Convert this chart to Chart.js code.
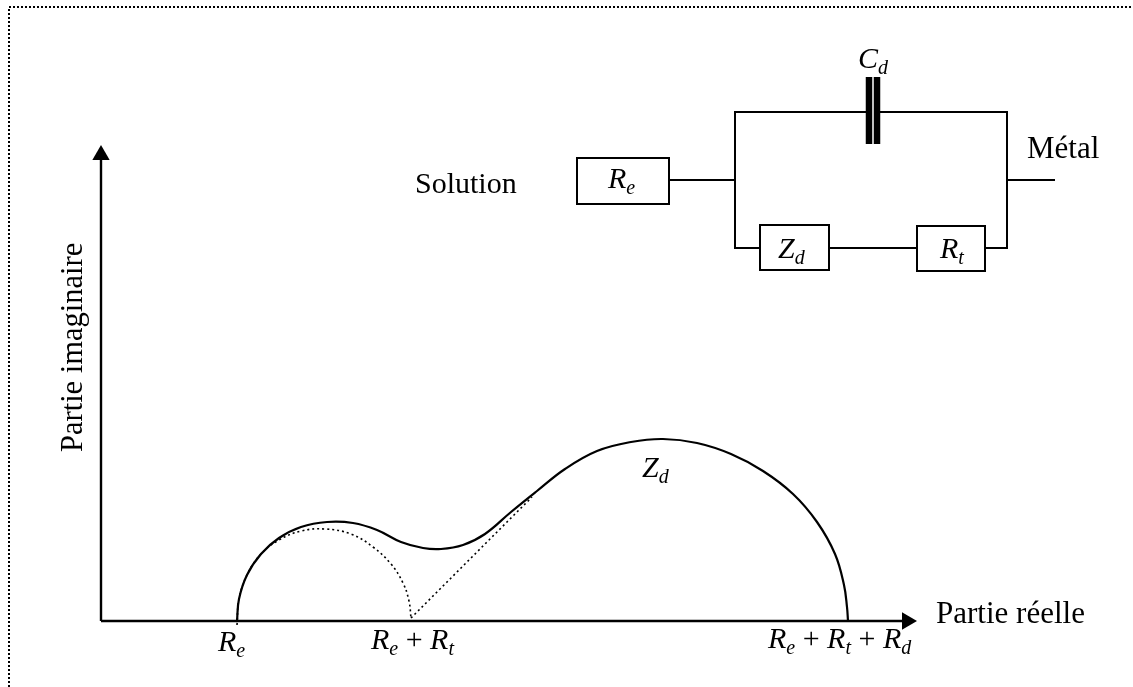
<!DOCTYPE html>
<html lang="fr">
<head>
<meta charset="UTF-8">
<title>Diagramme d'impédance</title>
<script src="https://cdn.jsdelivr.net/npm/chart.js"></script>
<style>
    html, body { margin: 0; padding: 0; background: #fff; }
    canvas { display: block; }
</style>
</head>
<body>
<canvas id="nyquist" width="1133" height="687"></canvas>
<script>
// all values are in figure units, origin where the two axes cross
const impedanceReal = [136, 138, 146, 160, 178, 200, 226, 252, 276, 300, 322, 340, 362, 384, 410, 436, 464, 496, 530, 562, 596, 630, 662, 692, 716, 734, 743, 746, 747];
const impedanceImag = [0, 22, 46, 67, 83, 94, 99, 98, 91, 79, 73, 72, 76, 87, 109, 130, 152, 170, 179, 182, 178, 167, 150, 127, 99, 67, 36, 14, 0];

const arcReal = [136, 138, 146, 160, 178, 200, 224, 250, 272, 290, 302, 308, 310];
const arcImag = [-4, 22, 46, 67, 81, 90, 92, 87, 74, 57, 38, 20, 3];

const tangentReal = [310, 431];
const tangentImag = [3, 124];

const axisXReal = [0, 803];
const axisXImag = [0, 0];
const axisYReal = [0, 0];
const axisYImag = [0, 461];
const arrowReal = [0, 806];
const arrowImag = [466, 0];

const frameReal = [-92, -92, 1032];
const frameImag = [-66, 614, 614];

// circuit schematic
const wireSegments = [
    [[568, 441], [634, 441]],
    [[659, 373], [634, 373], [634, 509], [768, 509]],
    [[776, 509], [906, 509], [906, 373], [884, 373]],
    [[728, 373], [816, 373]],
    [[906, 441], [954, 441]]
];
const boxes = [
    [476, 417, 568, 463],
    [659, 351, 728, 396],
    [816, 350, 884, 395]
];
const plateReal = [768, 776];
const plateBottom = 477;
const plateTop = 544;

const labelTexts = ['Partie réelle', 'Partie imaginaire', 'Solution', 'Métal', 'C_d', 'R_e', 'Z_d', 'R_t', 'Z_d', 'R_e', 'R_e + R_t', 'R_e + R_t + R_d'];
const labelReal = [835, -19, 314, 926, 757, 507, 677, 839, 541, 117, 270, 667];
const labelImag = [-2, 169, 428, 463, 553, 433, 363, 363, 144, -30, -28, -27];
const labelRotation = [0, -90, 0, 0, 0, 0, 0, 0, 0, 0, 0, 0];
const labelSize = [31, 30.5, 30, 31, 30, 30, 30, 30, 30, 30, 30, 30];

function line(xs, ys, extra) {
    return Object.assign({
        data: xs.map((x, i) => ({ x: x, y: ys[i] })),
        showLine: true,
        borderColor: '#000',
        backgroundColor: '#000',
        borderWidth: 2,
        pointRadius: 0,
        tension: 0
    }, extra || {});
}

const datasets = [
    line(frameReal, frameImag, { borderDash: [2, 2] }),
    line(axisXReal, axisXImag, { borderWidth: 2.4 }),
    line(axisYReal, axisYImag, { borderWidth: 2.4 }),
    line(arcReal, arcImag, { borderDash: [2, 3], borderWidth: 1.6, tension: 0.4 }),
    line(tangentReal, tangentImag, { borderDash: [2, 3], borderWidth: 1.6 }),
    line(impedanceReal, impedanceImag, { borderWidth: 2.2, tension: 0.4 }),
    line([arrowReal[1]], [arrowImag[1]], { showLine: false, pointStyle: 'triangle', pointRadius: 10, rotation: 90, borderWidth: 0 }),
    line([arrowReal[0]], [arrowImag[0]], { showLine: false, pointStyle: 'triangle', pointRadius: 10, borderWidth: 0 })
];

wireSegments.forEach(s => datasets.push(line(s.map(p => p[0]), s.map(p => p[1]))));
boxes.forEach(b => datasets.push(line([b[0], b[2], b[2], b[0], b[0]], [b[1], b[1], b[3], b[3], b[1]], { borderJoinStyle: 'miter', borderCapStyle: 'square' })));
plateReal.forEach(x => datasets.push(line([x, x], [plateBottom, plateTop], { borderWidth: 6.5, borderCapStyle: 'butt' })));

// labels like R_e get an italic letter and a small subscript
const labelPlugin = {
    id: 'labels',
    afterDatasetsDraw(chart) {
        const ctx = chart.ctx;
        const sx = chart.scales.x, sy = chart.scales.y;
        ctx.save();
        ctx.fillStyle = '#000';
        ctx.textBaseline = 'alphabetic';
        labelTexts.forEach((text, i) => {
            const size = labelSize[i];
            ctx.save();
            ctx.translate(sx.getPixelForValue(labelReal[i]), sy.getPixelForValue(labelImag[i]));
            ctx.rotate(labelRotation[i] * Math.PI / 180);
            let cx = 0;
            if (text.indexOf('_') < 0) {
                ctx.font = size + 'px "Liberation Serif"';
                ctx.fillText(text, 0, 0);
            } else {
                text.split(' ').forEach((part, k) => {
                    if (k > 0) cx += 7.5;
                    if (part === '+') {
                        ctx.font = size + 'px "Liberation Serif"';
                        ctx.fillText('+', cx, 0);
                        cx += ctx.measureText('+').width;
                    } else {
                        const bits = part.split('_');
                        ctx.font = 'italic ' + size + 'px "Liberation Serif"';
                        ctx.fillText(bits[0], cx, 0);
                        cx += ctx.measureText(bits[0]).width;
                        ctx.font = 'italic 20px "Liberation Serif"';
                        ctx.fillText(bits[1], cx, 6);
                        cx += ctx.measureText(bits[1]).width;
                    }
                });
            }
            ctx.restore();
        });
        ctx.restore();
    }
};

new Chart(document.getElementById('nyquist').getContext('2d'), {
    type: 'scatter',
    data: { datasets: datasets },
    plugins: [labelPlugin],
    options: {
        responsive: false,
        animation: false,
        clip: false,
        layout: { padding: 0, autoPadding: false },
        plugins: { legend: { display: false }, tooltip: { enabled: false } },
        scales: {
            x: { type: 'linear', display: false, min: -101, max: 1032 },
            y: { type: 'linear', display: false, min: -66, max: 621 }
        }
    }
});
</script>
</body>
</html>
